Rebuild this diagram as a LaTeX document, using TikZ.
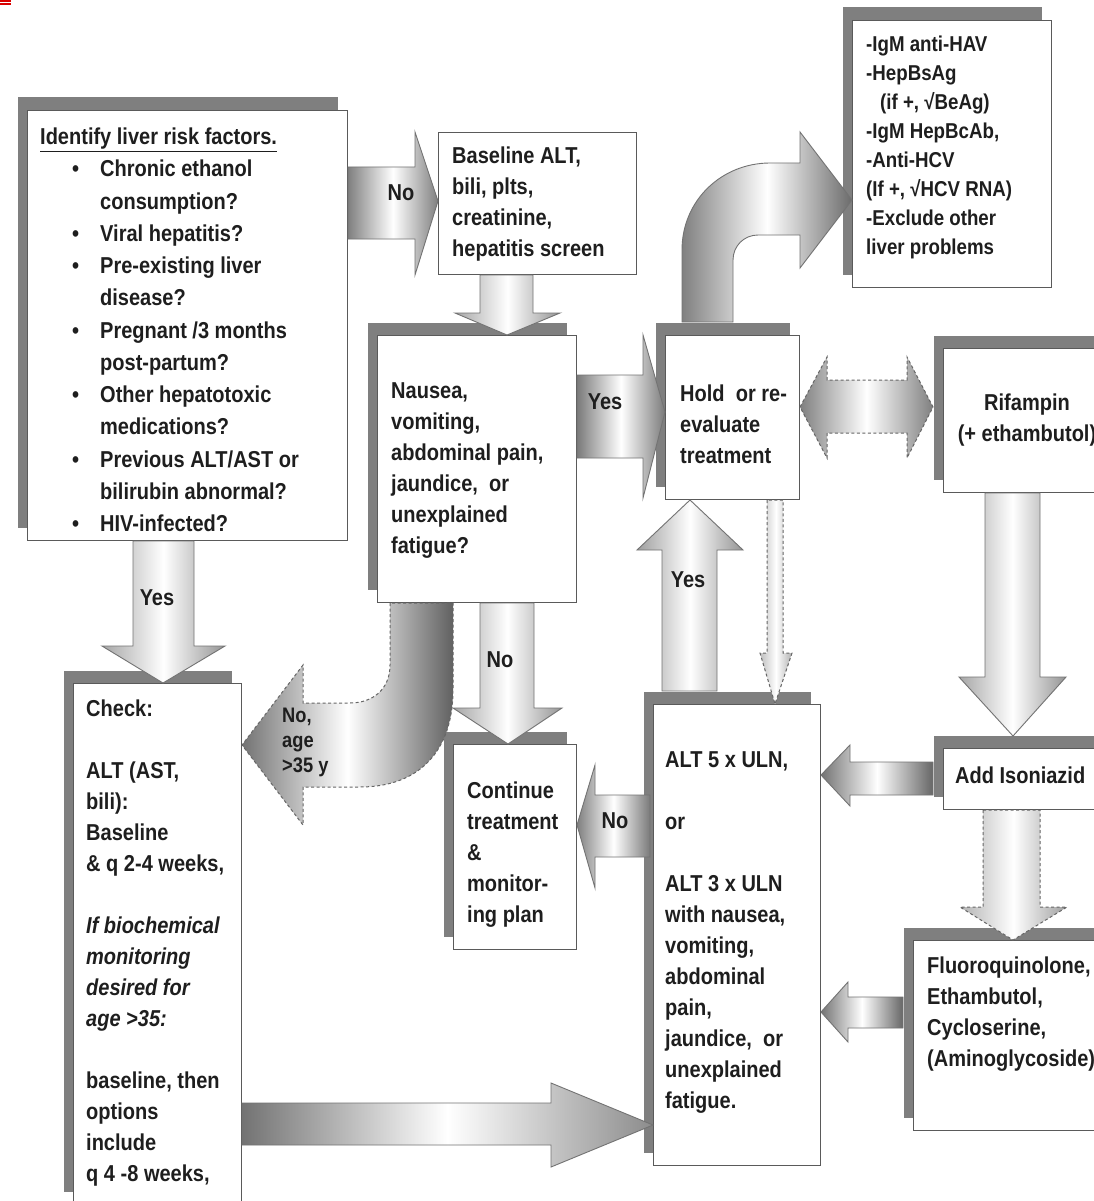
\documentclass[tikz,border=0pt]{standalone}
\usepackage{fontspec}
\setmainfont{Liberation Sans}[FakeStretch=0.87]
\usetikzlibrary{shadows,calc}
\newcommand\mfont{\fontsize{23}{31}\selectfont\bfseries}
\newcommand\tfont{\fontsize{23}{32.25}\selectfont\bfseries}
\newcommand\lfont{\fontsize{21.5}{29}\selectfont\bfseries}
\newcommand\kfont{\fontsize{21}{25}\selectfont\bfseries}
\newcommand\bitem{\hspace*{32pt}\makebox[28pt][l]{\textbullet}}
\newcommand\bcont{\hspace*{60pt}}
\definecolor{ink}{HTML}{1E1E1E}
\definecolor{edge}{HTML}{5A5A5A}
\definecolor{shd}{HTML}{7F7F7F}
\tikzset{
  flowbox/.style={draw=edge, line width=1pt, fill=white, anchor=north west, inner sep=0pt},
  shadowbox/.style={flowbox, drop shadow={shadow xshift=-10pt, shadow yshift=13pt, fill=shd, opacity=1}},
  txt/.style={anchor=west, align=left, inner sep=0pt, text=ink, font=\mfont},
  lbl/.style={inner sep=0pt, text=ink, font=\mfont},
  blk/.style={draw=black!55, line width=0.9pt},
  dsh/.style={draw=black!60, line width=1pt, dash pattern=on 3pt off 2.5pt},
  grad/.style n args={3}{left color=#1, right color=#3, middle color=#2},
}
\begin{document}
\begin{tikzpicture}[x=1pt,y=-1pt]
\useasboundingbox (0,0) rectangle (1094,1201);
\fill[white] (0,0) rectangle (1094,1201);
\draw[red!85!black, line width=1.5pt] (0,1) -- (11,1) (0,4) -- (11,4);

% ---------- boxes ----------
\node[shadowbox, minimum width=320pt, minimum height=430pt] (b1) at (27,110) {};
\node[flowbox,   minimum width=198pt, minimum height=142pt] (b2) at (438,132) {};
\node[shadowbox, minimum width=199pt, minimum height=267pt] (b3) at (377,335) {};
\node[shadowbox, minimum width=134pt, minimum height=164pt] (b4) at (665,335) {};
\node[shadowbox, minimum width=199pt, minimum height=267pt] (b5) at (852,20) {};
\node[shadowbox, minimum width=168pt, minimum height=144pt] (b6) at (943,348) {};
\node[shadowbox, minimum width=168pt, minimum height=521pt] (b7) at (73,683) {};
\node[shadowbox, minimum width=123pt, minimum height=205pt] (b8) at (453,744) {};
\node[shadowbox, minimum width=167pt, minimum height=461pt] (b9) at (653,704) {};
\node[shadowbox, minimum width=170pt, minimum height=61pt] (b10) at (943,748) {};
\node[shadowbox, minimum width=200pt, minimum height=190pt] (b11) at (913,940) {};

% ---------- box texts ----------
\node[txt, font=\tfont] (t1) at (40,330) {\underline{Identify liver risk factors.}\\
\bitem Chronic ethanol\\
\bcont consumption?\\
\bitem Viral hepatitis?\\
\bitem Pre-existing liver\\
\bcont disease?\\
\bitem Pregnant /3 months\\
\bcont post-partum?\\
\bitem Other hepatotoxic\\
\bcont medications?\\
\bitem Previous ALT/AST or\\
\bcont bilirubin abnormal?\\
\bitem HIV-infected?};
\node[txt] (t2) at (452,204) {Baseline ALT,\\bili, plts,\\creatinine,\\hepatitis screen};
\node[txt] (t3) at (391,471) {Nausea,\\vomiting,\\abdominal pain,\\jaundice,\ \ or\\unexplained\\fatigue?};
\node[txt] (t4) at (680,424) {Hold\ \ or re-\\evaluate\\treatment};
\node[txt, font=\lfont] (t5) at (866,147) {-IgM anti-HAV\\-HepBsAg\\\hspace*{14pt}(if +, √BeAg)\\-IgM HepBcAb,\\-Anti-HCV\\(If +, √HCV RNA)\\-Exclude other\\liver problems};
\node[txt, anchor=center, align=center] (t6) at (1027,420) {Rifampin\\(+ ethambutol)};
\node[txt] (t7) at (86,943) {Check:\\[31pt]ALT (AST,\\bili):\\Baseline\\\& q 2-4 weeks,\\[31pt]\textit{If biochemical}\\\textit{monitoring}\\\textit{desired for}\\\textit{age >35:}\\[31pt]baseline, then\\options\\include\\q 4 -8 weeks,};
\node[txt] (t8) at (467,855) {Continue\\treatment\\\&\\monitor-\\ing plan};
\node[txt] (t9) at (665,933) {ALT 5 x ULN,\\[31pt]or\\[31pt]ALT 3 x ULN\\with nausea,\\vomiting,\\abdominal\\pain,\\jaundice,\ \ or\\unexplained\\fatigue.};
\node[txt] (t10) at (955,775) {Add Isoniazid};
\node[txt] (t11) at (927,1014) {Fluoroquinolone,\\Ethambutol,\\Cycloserine,\\(Aminoglycoside)};

% ---------- block arrows ----------
% A1 b1 -> b2 (No)
\path[blk, grad={black!50}{white}{black!50}] (b1.east |- 0,167) -- (415,167) -- (415,132) -- (b2.west |- 0,201) -- (415,275) -- (415,239) -- (b1.east |- 0,239) -- cycle;
% A2 b2 -> b3
\path[blk, grad={black!35}{white}{black!42}] (480,0 |- b2.south) -- (480,313) -- (455,313) -- (507,0 |- b3.north) -- (560,313) -- (533,313) -- (533,0 |- b2.south) -- cycle;
% A3 b3 -> b4 (Yes)
\path[blk, grad={black!52}{white}{black!52}] (b3.east |- 0,375) -- (643,375) -- (643,335) -- (b4.west |- 0,412) -- (643,498) -- (643,458) -- (b3.east |- 0,458) -- cycle;
% A4 curved b4 -> b5
\path[blk, grad={black!50}{white}{black!58}] ($(682,0 |- b4.north)+(0,-13)$) -- (682,250) .. controls (682,200) and (722,163) .. (770,163) -- (800,163) -- (800,132) -- (b5.west |- 0,200) -- (800,268) -- (800,235) -- (758,235) .. controls (744,235) and (733,246) .. (733,260) -- ($(733,0 |- b4.north)+(0,-13)$) -- cycle;
% A5 dashed double b4 <-> b6
\path[dsh, grad={black!50}{white}{black!50}] (b4.east |- 0,407) -- (827,357) -- (827,380) -- (907,380) -- (907,357) -- ($(b6.west |- 0,407)+(-10,0)$) -- (907,458) -- (907,433) -- (827,433) -- (827,458) -- cycle;
% A6 b6 -> b10
\path[blk, grad={black!35}{white}{black!42}] (985,0 |- b6.south) -- (985,677) -- (959,677) -- ($(1013,0 |- b10.north)+(0,-12)$) -- (1066,677) -- (1040,677) -- (1040,0 |- b6.south) -- cycle;
% A7 b10 -> b9
\path[blk, grad={black!55}{white}{black!60}] ($(b10.west |- 0,762)+(-10,0)$) -- (850,762) -- (850,745) -- (b9.east |- 0,775) -- (850,806) -- (850,795) -- ($(b10.west |- 0,795)+(-10,0)$) -- cycle;
% A8 dashed b10 -> b11
\path[dsh, grad={black!30}{white}{black!38}] (983,0 |- b10.south) -- (983,907) -- (960,907) -- (1013,0 |- b11.north) -- (1067,907) -- (1040,907) -- (1040,0 |- b10.south) -- cycle;
% A9 b11 -> b9
\path[blk, grad={black!55}{white}{black!60}] ($(b11.west |- 0,997)+(-10,0)$) -- (848,997) -- (848,982) -- (b9.east |- 0,1012) -- (848,1042) -- (848,1028) -- ($(b11.west |- 0,1028)+(-10,0)$) -- cycle;
% A10 b9 -> b4 (Yes)
\path[blk, grad={black!38}{white}{black!42}] ($(662,0 |- b9.north)+(0,-13)$) -- (662,550) -- (637,550) -- (690,0 |- b4.south) -- (743,550) -- (717,550) -- ($(717,0 |- b9.north)+(0,-13)$) -- cycle;
% A11 thin dashed b4 -> b9
\path[dsh, grad={black!25}{white}{black!30}] (767,0 |- b4.south) -- (767,653) -- (760,653) -- (775,0 |- b9.north) -- (792,653) -- (783,653) -- (783,0 |- b4.south) -- cycle;
% A12 b9 -> b8 (No)
\path[blk, grad={black!50}{white}{black!52}] ($(b9.west |- 0,795)+(-3,0)$) -- (595,795) -- (595,765) -- (b8.east |- 0,825) -- (595,888) -- (595,857) -- ($(b9.west |- 0,857)+(-3,0)$) -- cycle;
% A13 b3 -> b8 (No)
\path[blk, grad={black!35}{white}{black!42}] (480,0 |- b3.south) -- (480,708) -- (453,708) -- (508,0 |- b8.north) -- (562,708) -- (534,708) -- (534,0 |- b3.south) -- cycle;
% A14 b1 -> b7 (Yes)
\path[blk, grad={black!35}{white}{black!42}] (133,0 |- b1.south) -- (133,646) -- (102,646) -- (163,0 |- b7.north) -- (225,646) -- (194,646) -- (194,0 |- b1.south) -- cycle;
% A15 curved dashed b3 -> b7
\path[dsh, grad={black!55}{white}{black!62}] (390,0 |- b3.south) -- (390,665) .. controls (390,690) and (372,703) .. (350,703) -- (303,703) -- (303,665) -- (b7.east |- 0,745) -- (303,825) -- (303,787) -- (360,787) .. controls (420,787) and (453,750) .. (453,690) -- (453,0 |- b3.south) -- cycle;
% A16 b7 -> b9
\path[blk, grad={black!55}{white}{black!45}] (b7.east |- 0,1103) -- (551,1103) -- (551,1083) -- (b9.west |- 0,1125) -- (551,1167) -- (551,1145) -- (b7.east |- 0,1145) -- cycle;

% ---------- arrow labels ----------
\node[lbl] (l1) at (401,193) {No};
\node[lbl] (l3) at (605,402) {Yes};
\node[lbl] (l10) at (688,580) {Yes};
\node[lbl] (l12) at (615,821) {No};
\node[lbl] (l13) at (500,660) {No};
\node[lbl] (l14) at (157,598) {Yes};
\node[lbl, anchor=west, align=left, font=\kfont] (l15) at (282,742) {No,\\age\\>35 y};
\end{tikzpicture}
\end{document}
